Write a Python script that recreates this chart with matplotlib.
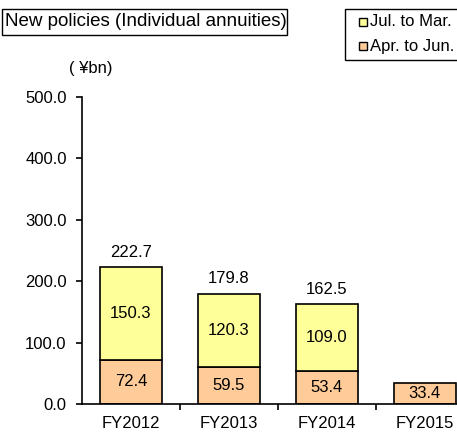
import numpy as np
import matplotlib.pyplot as plt

plt.rcParams['font.family'] = ['Liberation Sans', 'DejaVu Sans']

years = ['FY2012', 'FY2013', 'FY2014', 'FY2015']
apr_jun = [72.4, 59.5, 53.4, 33.4]
jul_mar = [150.3, 120.3, 109.0, None]
totals = [222.7, 179.8, 162.5, None]
yticks = [0, 100, 200, 300, 400, 500]

W, H = 457, 432
fig = plt.figure(figsize=(W / 100, H / 100), dpi=100)
# axes: left spine x=82, bottom y=404, top (500) y=97
ax = fig.add_axes([82 / W, (H - 404) / H, 1 - 82 / W, (404 - 97) / H])

x = np.arange(len(years))
w = 0.63
c_low = '#FFCC99'
c_up = '#FFFF99'
fs = 12

ax.bar(x, apr_jun, w, color=c_low, edgecolor='black', linewidth=1.2, zorder=2)
up_x = [i for i, v in enumerate(jul_mar) if v is not None]
up_v = [jul_mar[i] for i in up_x]
up_b = [apr_jun[i] for i in up_x]
ax.bar(up_x, up_v, w, bottom=up_b, color=c_up, edgecolor='black', linewidth=1.2, zorder=2)

for i, v in enumerate(apr_jun):
    ax.text(i, v / 2, f'{v:.1f}', ha='center', va='center', fontsize=fs)
for i in up_x:
    ax.text(i, apr_jun[i] + jul_mar[i] / 2, f'{jul_mar[i]:.1f}', ha='center', va='center', fontsize=fs)
for i, t in enumerate(totals):
    if t is not None:
        ax.text(i, t + 12, f'{t:.1f}', ha='center', va='bottom', fontsize=fs)

ax.set_ylim(0, 500)
ax.set_xlim(-0.5, 3.33)
ax.set_yticks(yticks)
ax.set_yticklabels([f'{v:.1f}' for v in yticks], fontsize=fs)
ax.set_xticks(x)
ax.set_xticklabels(years, fontsize=fs)
ax.set_xticks(x[:-1] + 0.5, minor=True)
ax.tick_params(axis='x', which='major', length=0, pad=9)
ax.tick_params(axis='x', which='minor', length=4, width=1.2, direction='out')
ax.tick_params(axis='y', length=4, width=1.2, direction='out', pad=7)
ax.spines['top'].set_visible(False)
ax.spines['right'].set_visible(False)
ax.spines['left'].set_linewidth(1.2)
ax.spines['bottom'].set_linewidth(1.2)

fig.text(91 / W, 1 - 68 / H, '( \u00a5bn)', ha='center', va='center', fontsize=fs)

# title box
fig.patches.append(plt.Rectangle((2 / W, 1 - 35 / H), 285 / W, 26 / H,
                                 transform=fig.transFigure, fc='white', ec='black', lw=1))
fig.text(5 / W, 1 - 22 / H, 'New policies (Individual annuities)', ha='left', va='center', fontsize=13.5)

# legend box
fig.patches.append(plt.Rectangle((345 / W, 1 - 60 / H), 120 / W, 51 / H,
                                 transform=fig.transFigure, fc='white', ec='black', lw=1))
for yy, col, lab in [(22, c_up, 'Jul. to Mar.'), (46, c_low, 'Apr. to Jun.')]:
    fig.patches.append(plt.Rectangle((359 / W, 1 - (yy + 4) / H), 8 / W, 8 / H,
                                     transform=fig.transFigure, fc=col, ec='black', lw=1))
    fig.text(370 / W, 1 - yy / H, lab, ha='left', va='center', fontsize=fs)

fig.savefig('out.png', dpi=100)
